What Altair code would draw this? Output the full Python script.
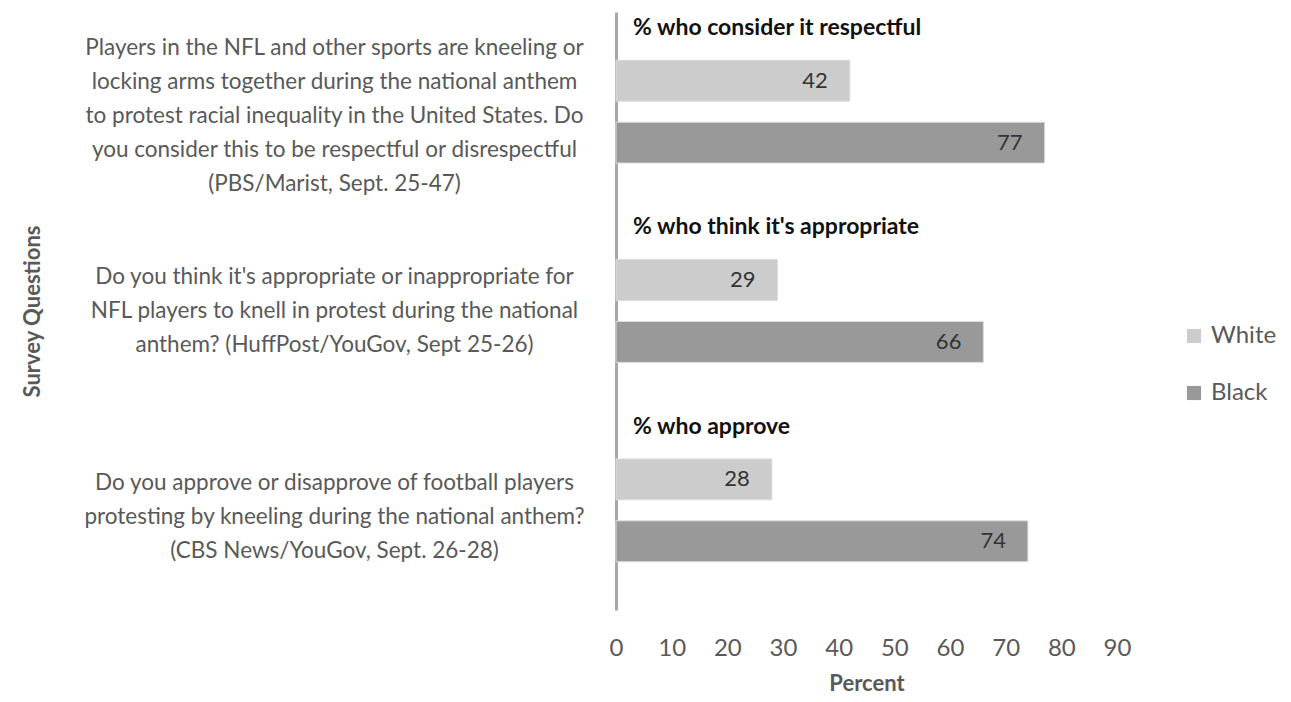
import altair as alt
import pandas as pd

questions = [
    "Players in the NFL and other sports are kneeling or|locking arms together during the national anthem|to protest racial inequality in the United States. Do|you consider this to be respectful or disrespectful|(PBS/Marist, Sept. 25-47)",
    "Do you think it's appropriate or inappropriate for|NFL players to knell in protest during the national|anthem? (HuffPost/YouGov, Sept 25-26)",
    "Do you approve or disapprove of football players|protesting by kneeling during the national anthem?|(CBS News/YouGov, Sept. 26-28)",
]
headers = ["% who consider it respectful", "% who think it's appropriate", "% who approve"]
races = ["White", "Black"]
white_vals = [42, 29, 28]
black_vals = [77, 66, 74]

rows = []
for q, w, b in zip(questions, white_vals, black_vals):
    rows.append({"Question": q, "Race": "White", "Percent": w})
    rows.append({"Question": q, "Race": "Black", "Percent": b})
df = pd.DataFrame(rows)
hdf = pd.DataFrame({"Question": questions, "Header": headers})

FONT = "Lato"
GRAY = "#595959"

yenc = alt.Y(
    "Question:N",
    sort=questions,
    scale=alt.Scale(paddingInner=0, paddingOuter=0),
    axis=alt.Axis(
        title="Survey Questions",
        labelExpr="split(datum.label, '|')",
        labelAlign="center",
        labelBaseline="middle",
        labelPadding=282,
        labelFontSize=22.5,
        labelLineHeight=34,
        labelColor=GRAY,
        labelFont=FONT,
        labelLimit=0,
        labelOffset={
            "condition": [
                {"test": "indexof(datum.label, 'PBS') >= 0", "value": -64},
                {"test": "indexof(datum.label, 'CBS') >= 0", "value": -27},
            ],
            "value": -34,
        },
        ticks=False,
        grid=False,
        domainColor="#a8a8a8",
        domainWidth=3,
        titleFont=FONT,
        titleFontSize=22,
        titleFontWeight="bold",
        titleColor=GRAY,
        titleX=-584,
        titleY=299,
        titleAngle=-90,
        titleAlign="center",
        titleBaseline="middle",
    ),
)

bars = alt.Chart(df).mark_bar(stroke="#dcdcdc", strokeWidth=1).encode(
    x=alt.X(
        "Percent:Q",
        scale=alt.Scale(domain=[0, 90], nice=False),
        axis=alt.Axis(
            values=list(range(0, 91, 10)),
            grid=False,
            domain=False,
            ticks=False,
            labelFlush=False,
            labelOverlap=False,
            labelFontSize=24,
            labelColor=GRAY,
            labelFont=FONT,
            labelPadding=26,
            title="Percent",
            titleFont=FONT,
            titleFontSize=22,
            titleFontWeight="bold",
            titleColor=GRAY,
            titlePadding=13,
        ),
    ),
    y=yenc,
    yOffset=alt.YOffset(
        "Race:N",
        sort=races,
        scale=alt.Scale(paddingInner=0.34, paddingOuter=0.78),
    ),
    color=alt.Color(
        "Race:N",
        sort=races,
        scale=alt.Scale(domain=races, range=["#cccccc", "#999999"]),
        legend=alt.Legend(
            title=None,
            orient="none",
            legendX=566,
            legendY=312,
            symbolType="square",
            symbolSize=200,
            symbolStrokeWidth=0,
            labelFontSize=24,
            labelFont=FONT,
            labelColor=GRAY,
            rowPadding=33,
            labelOffset=5,
        ),
    ),
)

labels = alt.Chart(df).mark_text(
    align="right", baseline="middle", dx=-22, fontSize=22, font=FONT, color="#333333"
).encode(
    x="Percent:Q",
    y=alt.Y("Question:N", sort=questions),
    yOffset=alt.YOffset("Race:N", sort=races),
    text="Percent:Q",
)

heads = alt.Chart(hdf).mark_text(
    align="left", baseline="middle", dy=16, fontSize=23, font=FONT,
    fontWeight="bold", color="#111111"
).encode(
    x=alt.value(17),
    y=alt.Y("Question:N", sort=questions, bandPosition=0),
    text="Header:N",
)

chart = (
    alt.layer(bars, labels, heads)
    .properties(
        width=501,
        height=598,
        background="white",
        padding={"left": 608, "top": 4, "right": 166, "bottom": 84},
        autosize=alt.AutoSizeParams(type="none"),
    )
    .configure_view(stroke="transparent", strokeWidth=0)
)

chart.save("out.html", embed_options={"renderer": "svg", "actions": False})
